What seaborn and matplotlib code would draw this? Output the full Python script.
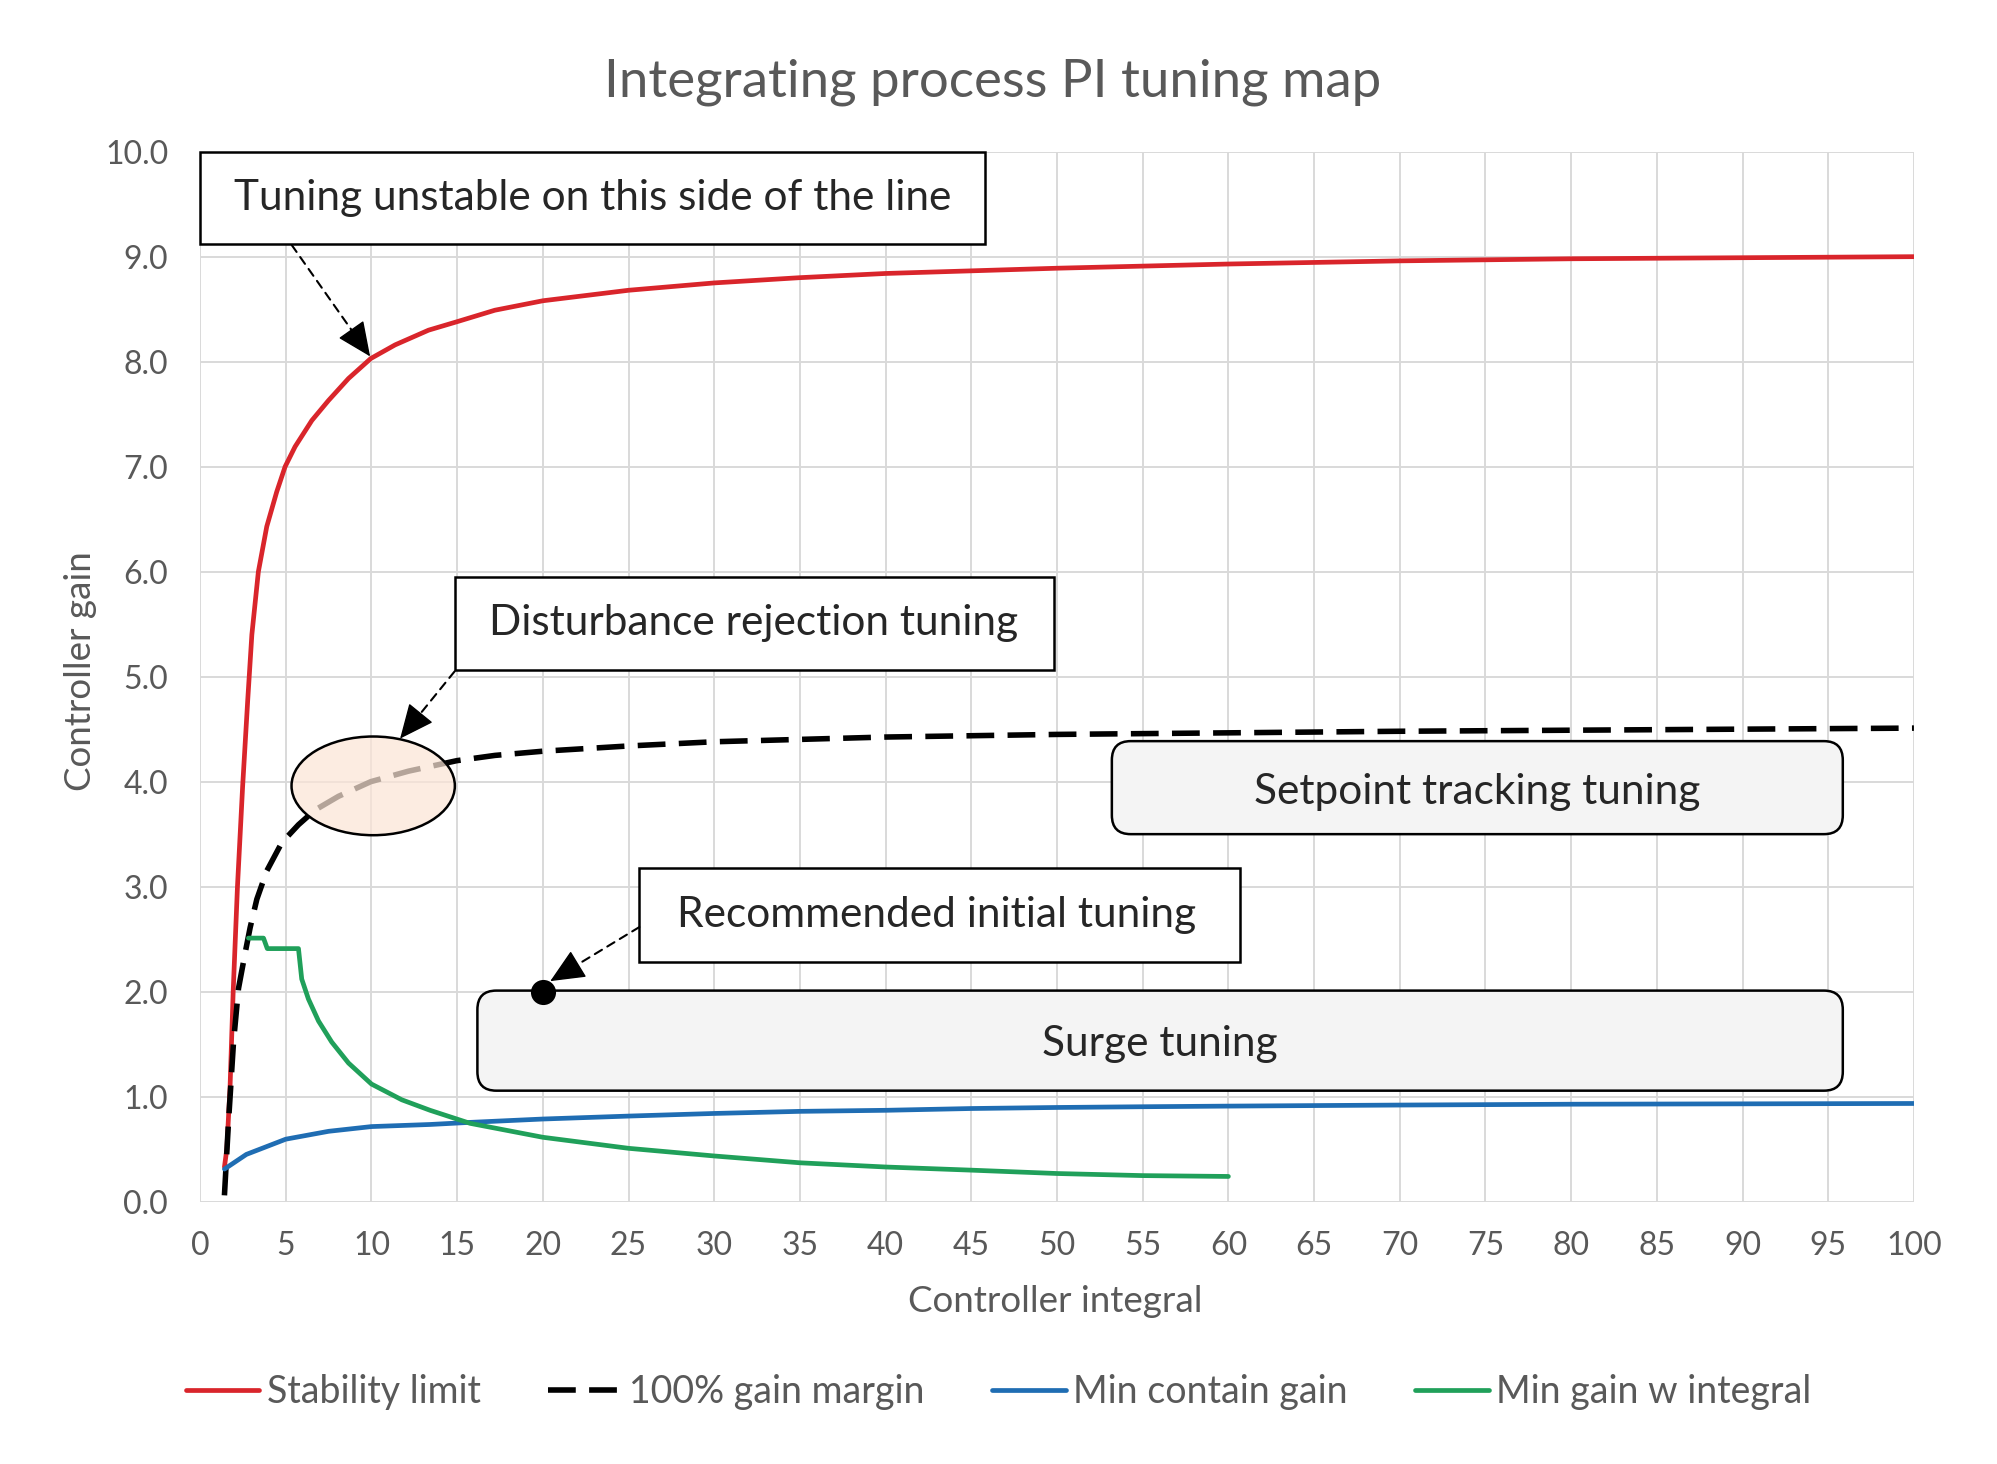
import numpy as np
import pandas as pd
import matplotlib
matplotlib.use('Agg')
import matplotlib.pyplot as plt
from matplotlib.patches import Rectangle, FancyBboxPatch, Ellipse
import seaborn as sns

# values
stab_x = [1.42, 1.56, 1.75, 1.93, 2.18, 2.48, 2.78, 3.02, 3.40, 3.89, 4.47, 4.96, 5.54, 6.52, 7.49, 8.66, 9.96,
          11.38, 13.33, 14.98, 17.2, 20, 25, 30, 35, 40, 50, 60, 70, 80, 90, 100]
stab_y = [0.33, 0.50, 1.10, 2.00, 3.00, 3.95, 4.78, 5.40, 6.00, 6.43, 6.76, 7.00, 7.19, 7.44, 7.63, 7.84, 8.03,
          8.16, 8.30, 8.38, 8.49, 8.58, 8.68, 8.75, 8.80, 8.84, 8.89, 8.93, 8.96, 8.98, 8.99, 9.0]

margin_x = [1.42, 1.65, 1.95, 2.24, 2.63, 2.92, 3.31, 3.89, 4.77, 5.74, 6.71, 8.07, 9.96, 12.16, 14.98, 17.2,
            20, 25, 30, 40, 50, 60, 70, 80, 90, 100]
margin_y = [0.06, 0.74, 1.52, 2.03, 2.37, 2.61, 2.88, 3.15, 3.42, 3.59, 3.73, 3.86, 4.00, 4.10, 4.20, 4.25,
            4.29, 4.34, 4.38, 4.425, 4.45, 4.465, 4.48, 4.49, 4.50, 4.51]

contain_x = [1.42, 2.7, 5.0, 7.5, 10, 13.42, 15.75, 20, 25, 30, 35, 40, 45, 50, 55, 60, 70, 80, 100]
contain_y = [0.31, 0.45, 0.595, 0.67, 0.715, 0.735, 0.755, 0.787, 0.815, 0.84, 0.86, 0.87, 0.887, 0.897, 0.904,
             0.91, 0.92, 0.928, 0.935]

integ_x = [2.82, 3.70, 3.92, 5.74, 5.93, 6.32, 6.91, 7.68, 8.66, 10.0, 11.77, 13.42, 15.75, 20, 25, 30, 35, 40,
           45, 50, 55, 60]
integ_y = [2.51, 2.51, 2.41, 2.41, 2.12, 1.93, 1.72, 1.52, 1.32, 1.12, 0.97, 0.87, 0.746, 0.613, 0.508, 0.435,
           0.37, 0.33, 0.30, 0.268, 0.248, 0.24]

recommended_x = [20]
recommended_y = [2.0]

series_names = ['Stability limit', '100% gain margin', 'Min contain gain', 'Min gain w integral']
series_colors = ['#d9252b', '#000000', '#1f6db3', '#20a05a']

grey = '#595959'

sns.set_theme(style='whitegrid')
plt.rcParams['font.family'] = ['Lato', 'DejaVu Sans']

fig = plt.figure(figsize=(19.97, 14.64), dpi=100)
ax = fig.add_axes([0.1002, 0.1792, 0.8582, 0.7172])

sns.lineplot(x=stab_x, y=stab_y, ax=ax, color=series_colors[0], lw=3.4, label=series_names[0])
sns.lineplot(x=margin_x, y=margin_y, ax=ax, color=series_colors[1], lw=4.0, linestyle=(0, (5, 2.4)), label=series_names[1])
sns.lineplot(x=contain_x, y=contain_y, ax=ax, color=series_colors[2], lw=3.4, label=series_names[2])
sns.lineplot(x=integ_x, y=integ_y, ax=ax, color=series_colors[3], lw=3.4, label=series_names[3])

ax.set_xlim(0, 100)
ax.set_ylim(0, 10)
ax.set_xticks(range(0, 101, 5))
ax.set_yticks(np.arange(0, 10.1, 1.0))
ax.set_yticklabels([f'{v:.1f}' for v in np.arange(0, 10.1, 1.0)])
ax.grid(True, color='#d9d9d9', lw=1.4)
for s in ax.spines.values():
    s.set_visible(False)
ax.tick_params(axis='both', length=0, labelsize=23, labelcolor=grey)
ax.tick_params(axis='y', pad=23)
ax.tick_params(axis='x', pad=21)

ax.set_xlabel('Controller integral', fontsize=26.5, color=grey)
ax.set_ylabel('Controller gain', fontsize=26.5, color=grey)
ax.xaxis.set_label_coords(0.499, -0.079)
ax.yaxis.set_label_coords(-0.060, 0.505)

fig.text(0.497, 0.944, 'Integrating process PI tuning map', ha='center', va='center', fontsize=38, color=grey)

# ellipse around disturbance rejection point
ax.add_patch(Ellipse((10.1, 3.96), 9.53, 0.94, facecolor=(251/255, 229/255, 214/255, 0.72),
                     edgecolor='black', lw=1.8, zorder=4))

box_font = 30.5

# square boxes
ax.add_patch(Rectangle((0, 9.12), 45.8, 0.88, facecolor='white', edgecolor='black', lw=1.8, zorder=5, clip_on=False))
ax.text(22.9, 9.56, 'Tuning unstable on this side of the line', ha='center', va='center', fontsize=box_font, zorder=6)

ax.add_patch(Rectangle((14.85, 5.065), 35.0, 0.885, facecolor='white', edgecolor='black', lw=1.8, zorder=5))
ax.text(32.3, 5.51, 'Disturbance rejection tuning', ha='center', va='center', fontsize=box_font, zorder=6)

ax.add_patch(Rectangle((25.63, 2.28), 35.03, 0.896, facecolor='white', edgecolor='black', lw=1.8, zorder=5))
ax.text(43.0, 2.73, 'Recommended initial tuning', ha='center', va='center', fontsize=box_font, zorder=6)

# rounded boxes
ax.add_patch(FancyBboxPatch((53.2, 3.50), 42.65, 0.886, boxstyle='round,pad=0,rounding_size=1.1',
                            mutation_aspect=0.164, facecolor='#f4f4f4', edgecolor='black', lw=1.8, zorder=5))
ax.text(74.5, 3.90, 'Setpoint tracking tuning', ha='center', va='center', fontsize=box_font, zorder=6)

ax.add_patch(FancyBboxPatch((16.18, 1.057), 79.67, 0.953, boxstyle='round,pad=0,rounding_size=1.1',
                            mutation_aspect=0.164, facecolor='#f4f4f4', edgecolor='black', lw=1.8, zorder=5))
ax.text(56.0, 1.50, 'Surge tuning', ha='center', va='center', fontsize=box_font, zorder=6)


# dashed callout arrows with a solid head
def callout(start, tip):
    p0 = ax.transData.transform(start)
    p1 = ax.transData.transform(tip)
    d = p0 - p1
    back = p1 + d / np.hypot(*d) * 12
    back = ax.transData.inverted().transform(back)
    ax.annotate('', xy=tip, xytext=start, zorder=6,
                arrowprops=dict(arrowstyle='-', linestyle=(0, (4, 3)), lw=1.5, color='black',
                                shrinkA=0, shrinkB=6))
    ax.annotate('', xy=tip, xytext=back, zorder=6,
                arrowprops=dict(arrowstyle='-|>,head_length=1.0,head_width=0.45', lw=1.0, color='black',
                                mutation_scale=22, shrinkA=0, shrinkB=0))


callout((5.35, 9.11), (9.92, 8.05))
callout((14.85, 5.05), (11.67, 4.41))
callout((25.63, 2.615), (20.43, 2.10))

sns.scatterplot(x=recommended_x, y=recommended_y, ax=ax, s=280, color='black', edgecolor='black', zorder=7, legend=False)

handles, labels = ax.get_legend_handles_labels()
ax.get_legend().remove()
fig.legend(handles, labels, loc='center', bbox_to_anchor=(0.5, 0.049), ncol=4, frameon=False,
           fontsize=27, handlelength=1.96, handletextpad=0.2, columnspacing=1.8, labelcolor=grey)

fig.savefig('out.png', dpi=100)
